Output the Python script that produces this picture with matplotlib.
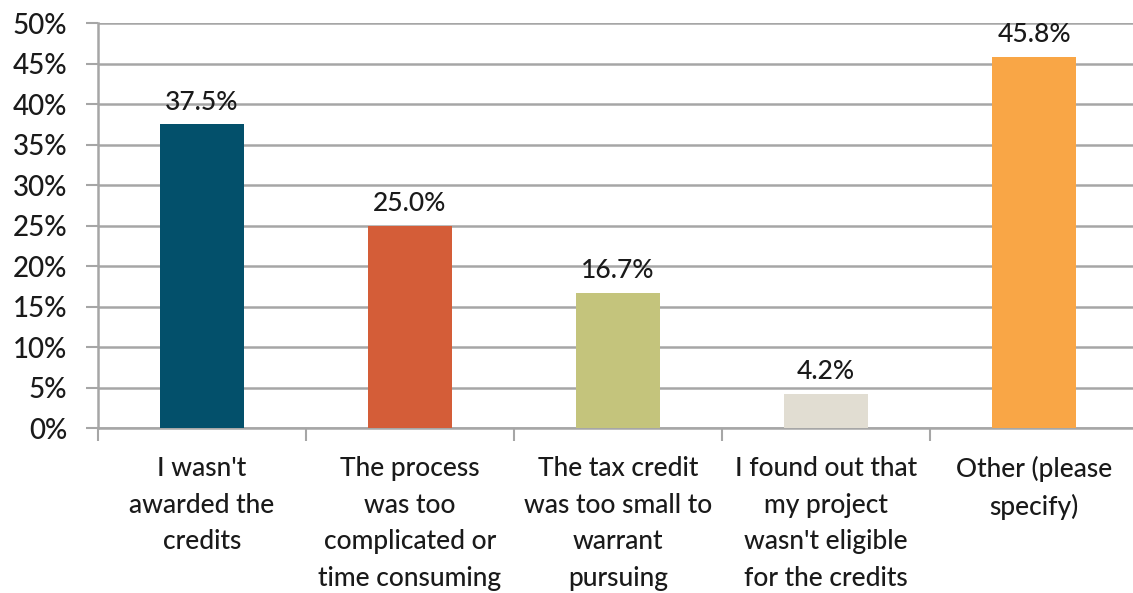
import matplotlib
matplotlib.use("Agg")
from matplotlib import pyplot as plt
from matplotlib.ticker import PercentFormatter

plt.rcParams['font.family'] = ['Lato', 'DejaVu Sans']
plt.rcParams['font.weight'] = 'medium'

# data
categories = [
    "I wasn't\nawarded the\ncredits",
    "The process\nwas too\ncomplicated or\ntime consuming",
    "The tax credit\nwas too small to\nwarrant\npursuing",
    "I found out that\nmy project\nwasn't eligible\nfor the credits",
    "Other (please\nspecify)",
]
values = [37.5, 25.0, 16.7, 4.2, 45.8]
colors = ["#03506b", "#d45d38", "#c4c47c", "#e1ddd2", "#f9a646"]

fig = plt.figure(figsize=(11.33, 5.93), dpi=100)
ax = fig.add_axes([0.0865, 0.278, 0.918, 0.683])

x = list(range(len(categories)))
ax.bar(x, values, width=0.4, color=colors, zorder=3)

for xi, v in zip(x, values):
    ax.annotate(f"{v:.1f}%", (xi, v), xytext=(0, 7), textcoords="offset points",
                ha="center", va="bottom", fontsize=19, color="#1a1a1a")

ax.set_xlim(-0.5, len(categories) - 0.5)
ax.set_ylim(0, 50)
ax.set_yticks(range(0, 51, 5))
ax.yaxis.set_major_formatter(PercentFormatter(decimals=0))
ax.grid(axis="y", color="#a6a6a6", linewidth=1.8, zorder=0)

ax.set_xticks(x)
ax.set_xticklabels(categories, fontsize=19, color="#1a1a1a", linespacing=1.58)
ax.set_xticks([i - 0.5 for i in range(len(categories) + 1)], minor=True)
ax.tick_params(axis="x", which="major", length=0, pad=20)
ax.tick_params(axis="x", which="minor", length=9, width=1.5, color="#a6a6a6")
ax.tick_params(axis="y", length=9, width=1.5, color="#a6a6a6", labelsize=20,
               labelcolor="#1a1a1a", pad=13)

for side in ["top", "right"]:
    ax.spines[side].set_visible(False)
ax.spines["left"].set_color("#a6a6a6")
ax.spines["left"].set_linewidth(1.8)
ax.spines["bottom"].set_color("#a6a6a6")
ax.spines["bottom"].set_linewidth(1.8)

fig.savefig("out.png", dpi=100)
